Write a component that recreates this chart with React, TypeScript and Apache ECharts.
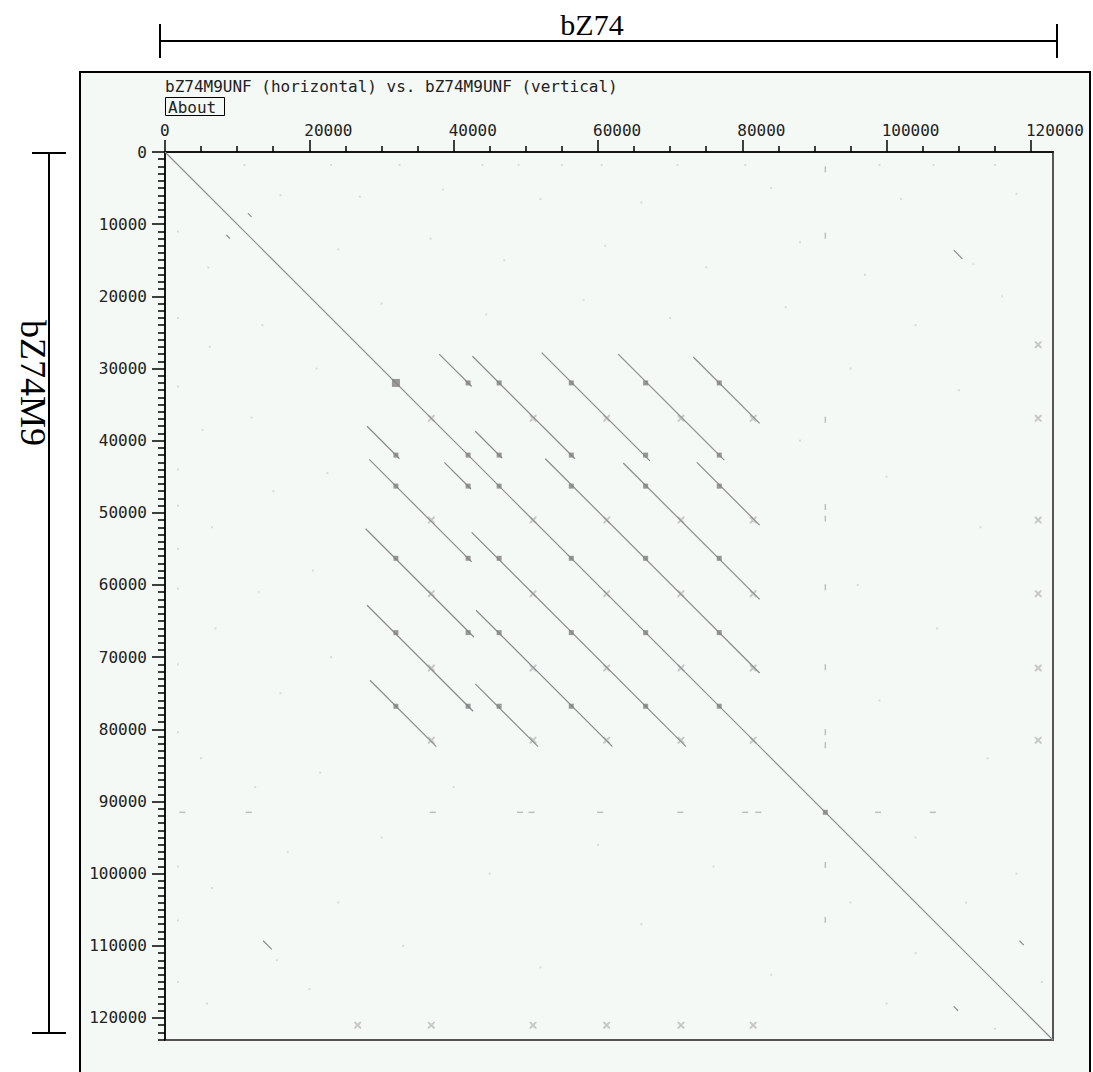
import React, { useEffect, useRef } from "react";
import * as echarts from "echarts";

// ---------- data (base pairs) ----------
const SEQ_LEN = 123050;
const xTickValues = [0, 20000, 40000, 60000, 80000, 100000, 120000];
const yTickValues = [0, 10000, 20000, 30000, 40000, 50000, 60000, 70000, 80000, 90000, 100000, 110000, 120000];

// strong match blocks along repeat units
const unitMarks = [32000, 42000, 46300, 56300, 66600, 76800];
const extraDiagonalMarks = [91500];

// diagonal match segments above the main diagonal [xStart, yStart, xEnd, yEnd]
const repeatSegments = [
  [38000, 28000, 42500, 32500],
  [42600, 28300, 56800, 42500],
  [43000, 38700, 46700, 42400],
  [52200, 27800, 67200, 42800],
  [62800, 28000, 77500, 42700],
  [73200, 28400, 82400, 37600],
  [52700, 42500, 82400, 72200],
  [63500, 43100, 82400, 62000],
  [73700, 43000, 82400, 51700],
];
// short isolated matches above the diagonal
const shortMatches = [
  [11500, 8500, 12000, 9000],
  [109300, 13600, 110500, 14800],
  [118400, 109300, 119000, 109900],
];
// weak cross-shaped matches between repeat units
const crossMarks = [36900, 51000, 61200, 71500, 81500];
// weak clusters near the sequence end
const endClusterX = 121000;
const endClusterY = [26700, 36900, 51000, 61200, 71500, 81500];
// low-complexity stripe at ~91.5 kb
const stripePos = 91500;
const stripeHits = [2400, 11600, 37100, 49200, 50800, 60300, 71400, 80400, 82200, 98800, 106400];
// faint background dots (upper triangle, mirrored)
const faintDots = [
  [11000, 1800], [23000, 1800], [32500, 1800], [44000, 1800], [49000, 1800], [55000, 1800],
  [60500, 1800], [71000, 1800], [80400, 1800], [99000, 1800], [106500, 1800], [115000, 1800],
  [16000, 6000], [27000, 6200], [38500, 5200], [52000, 6500], [66000, 7000], [84000, 5000],
  [102000, 6500], [118000, 5800], [24000, 13500], [36800, 12000], [47000, 15000], [61000, 13000],
  [75000, 16000], [88000, 12500], [97000, 17000], [112000, 15500], [30000, 21000], [44500, 22500],
  [58000, 20500], [70000, 23000], [86000, 21500], [104000, 24000], [116000, 20000], [95000, 30000],
  [110000, 33000], [100000, 45000], [113000, 52000], [96000, 60000], [107000, 66000], [99000, 76000],
  [114000, 84000], [104000, 95000], [118000, 100000], [111000, 104000], [121500, 115000], [88000, 40000],
];

const AXIS_FONT = "DejaVu Sans Mono";

function buildOption() {
  const mirrorSeg = (s: number[]) => [s[1], s[0], s[3], s[2]];
  const segs = [[0, 0, SEQ_LEN, SEQ_LEN], ...repeatSegments, ...repeatSegments.map(mirrorSeg), ...shortMatches, ...shortMatches.map(mirrorSeg)];
  const linesData = segs.map((s) => ({ coords: [[s[0], s[1]], [s[2], s[3]]] }));

  const blobs: number[][] = [];
  unitMarks.forEach((a) => unitMarks.forEach((b) => blobs.push([a, b])));
  extraDiagonalMarks.forEach((a) => blobs.push([a, a]));

  const crosses: number[][] = [];
  crossMarks.forEach((a) => crossMarks.forEach((b) => crosses.push([a, b])));
  endClusterY.forEach((y) => {
    crosses.push([endClusterX, y]);
    crosses.push([y, endClusterX]);
  });

  const vDashes = stripeHits.map((y) => [stripePos, y]);
  const hDashes = stripeHits.map((x) => [x, stripePos]);
  const dots = faintDots.flatMap((p) => [p, [p[1], p[0]]]);

  const xPath = "path://M0,0 L2,0 L10,8 L10,10 L8,10 L0,2 Z M8,0 L10,0 L10,2 L2,10 L0,10 L0,8 Z";

  return {
    animation: false,
    backgroundColor: "#ffffff",
    grid: {
      left: 165,
      top: 152,
      width: 888,
      height: 888,
      show: true,
      borderColor: "#555555",
      borderWidth: 2,
      backgroundColor: "transparent",
    },
    xAxis: {
      type: "value",
      position: "top",
      min: 0,
      max: SEQ_LEN,
      interval: 20000,
      axisLine: { show: true, onZero: false, lineStyle: { color: "#000", width: 1.5 } },
      axisTick: { show: true, length: 12, customValues: xTickValues, lineStyle: { color: "#000", width: 1.5 } },
      minorTick: { show: true, splitNumber: 4, length: 6, lineStyle: { color: "#000", width: 1.5 } },
      axisLabel: {
        customValues: xTickValues,
        fontFamily: AXIS_FONT,
        fontSize: 16,
        color: "#222",
        margin: 14,
        align: "left",
        padding: [0, 0, 0, -5],
        formatter: (v: number) => String(v),
      },
      splitLine: { show: false },
    },
    yAxis: {
      type: "value",
      inverse: true,
      position: "left",
      min: 0,
      max: SEQ_LEN,
      interval: 10000,
      axisLine: { show: true, onZero: false, lineStyle: { color: "#000", width: 1.5 } },
      axisTick: { show: true, length: 13, customValues: yTickValues, lineStyle: { color: "#000", width: 1.5 } },
      minorTick: { show: true, splitNumber: 10, length: 7, lineStyle: { color: "#000", width: 1.5 } },
      axisLabel: {
        customValues: yTickValues,
        fontFamily: AXIS_FONT,
        fontSize: 16,
        color: "#222",
        margin: 18,
        formatter: (v: number) => String(v),
      },
      splitLine: { show: false },
    },
    series: [
      {
        type: "scatter",
        data: dots,
        symbol: "rect",
        symbolSize: 2,
        itemStyle: { color: "#d2d6d2" },
        silent: true,
        z: 1,
      },
      {
        type: "scatter",
        data: vDashes,
        symbol: "rect",
        symbolSize: [1.5, 6],
        itemStyle: { color: "#b0b0b0" },
        silent: true,
        z: 1,
      },
      {
        type: "scatter",
        data: hDashes,
        symbol: "rect",
        symbolSize: [6, 1.5],
        itemStyle: { color: "#b0b0b0" },
        silent: true,
        z: 1,
      },
      {
        type: "scatter",
        data: crosses,
        symbol: xPath,
        symbolSize: 7,
        itemStyle: { color: "#bcbcbc" },
        silent: true,
        z: 1,
      },
      {
        type: "lines",
        coordinateSystem: "cartesian2d",
        polyline: false,
        data: linesData,
        lineStyle: { color: "#8c8c8c", width: 1.2, opacity: 1 },
        silent: true,
        z: 2,
      },
      {
        type: "scatter",
        data: blobs,
        symbol: "rect",
        symbolSize: (v: number[]) => (v[0] === unitMarks[0] && v[1] === unitMarks[0] ? 8 : 5),
        itemStyle: { color: "#808080" },
        silent: true,
        z: 3,
      },
    ],
    graphic: [
      {
        type: "rect",
        z: -10,
        shape: { x: 80, y: 72, width: 1010, height: 1020 },
        style: { fill: "#f4f9f5", stroke: "#000", lineWidth: 2 },
      },
      {
        type: "text",
        x: 165,
        y: 86,
        style: {
          text: "bZ74M9UNF (horizontal) vs. bZ74M9UNF (vertical)",
          fontFamily: AXIS_FONT,
          fontSize: 16,
          fill: "#222",
          verticalAlign: "middle",
        },
      },
      {
        type: "rect",
        shape: { x: 165.5, y: 97.5, width: 59, height: 18 },
        style: { fill: "none", stroke: "#000", lineWidth: 1 },
      },
      {
        type: "text",
        x: 168,
        y: 107,
        style: { text: "About", fontFamily: AXIS_FONT, fontSize: 16, fill: "#222", verticalAlign: "middle" },
      },
      {
        type: "text",
        x: 592,
        y: 24,
        style: {
          text: "bZ74",
          fontFamily: "Liberation Serif",
          fontSize: 30,
          fill: "#000",
          align: "center",
          verticalAlign: "middle",
        },
      },
      { type: "line", shape: { x1: 160, y1: 41, x2: 1057, y2: 41 }, style: { stroke: "#000", lineWidth: 2 } },
      { type: "line", shape: { x1: 160, y1: 24, x2: 160, y2: 58 }, style: { stroke: "#000", lineWidth: 2 } },
      { type: "line", shape: { x1: 1057, y1: 24, x2: 1057, y2: 58 }, style: { stroke: "#000", lineWidth: 2 } },
      { type: "line", shape: { x1: 49, y1: 153, x2: 49, y2: 1033 }, style: { stroke: "#000", lineWidth: 2 } },
      { type: "line", shape: { x1: 32, y1: 153, x2: 66, y2: 153 }, style: { stroke: "#000", lineWidth: 2 } },
      { type: "line", shape: { x1: 32, y1: 1033, x2: 66, y2: 1033 }, style: { stroke: "#000", lineWidth: 2 } },
      {
        type: "text",
        x: 33,
        y: 383,
        rotation: -Math.PI / 2,
        style: {
          text: "bZ74M9",
          fontFamily: "Liberation Serif",
          fontSize: 36,
          fill: "#000",
          align: "center",
          verticalAlign: "middle",
        },
      },
    ],
  };
}

export default function App() {
  const ref = useRef<HTMLDivElement>(null);
  useEffect(() => {
    if (!ref.current) return;
    const chart = echarts.init(ref.current, null, { renderer: "svg" });
    chart.setOption(buildOption() as any);
    return () => chart.dispose();
  }, []);
  return (
    <div
      ref={ref}
      style={{ position: "absolute", left: 0, top: 0, width: 1093, height: 1072 }}
    />
  );
}
